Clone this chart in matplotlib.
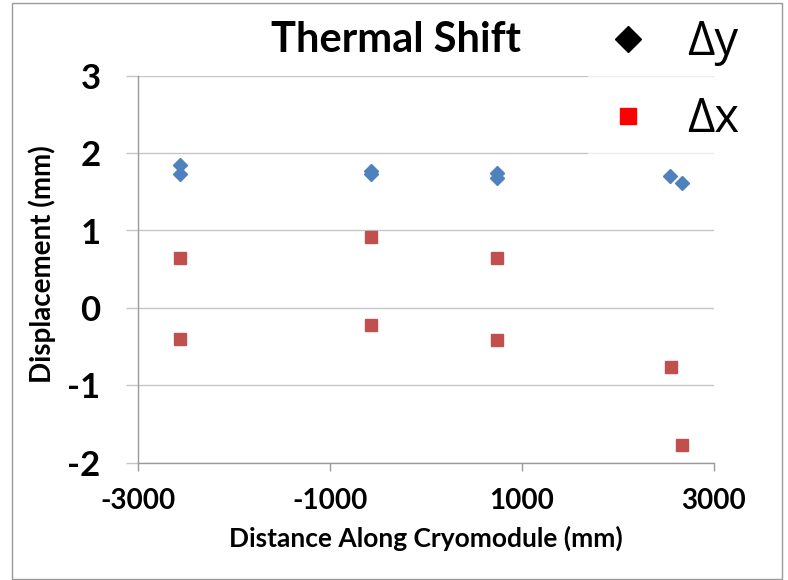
import matplotlib
matplotlib.use("Agg")
import matplotlib.pyplot as plt
from matplotlib.lines import Line2D
from matplotlib.patches import Rectangle

# positions along the cryomodule (mm)
pos_dy = [-2560, -2560, -573, -573, 740, 740, 2542, 2667]
dy = [1.84, 1.73, 1.77, 1.73, 1.74, 1.68, 1.70, 1.62]

pos_dx = [-2560, -2560, -573, -573, 740, 740, 2550, 2667]
dx = [0.64, -0.40, 0.91, -0.22, 0.65, -0.41, -0.77, -1.77]

x_ticks = [-3000, -1000, 1000, 3000]
y_ticks = [-2, -1, 0, 1, 2, 3]

BLUE = "#4F81BD"
RED = "#C0504D"
GRID = "#c6c6c6"
AXIS = "#9a9a9a"

plt.rcParams["font.family"] = ["Lato", "DejaVu Sans"]

W, H = 788, 580
fig = plt.figure(figsize=(W / 100, H / 100), dpi=100)
ax = fig.add_axes([138 / W, 1 - 462.7 / H, (714 - 138) / W, (462.7 - 75.7) / H])

ax.plot(pos_dy, dy, linestyle="none", marker="D", markersize=7.5,
        color=BLUE, markeredgecolor=BLUE, zorder=3)
ax.plot(pos_dx, dx, linestyle="none", marker="s", markersize=8.2,
        color=RED, markeredgecolor=RED, zorder=3)

ax.set_xlim(-3000, 3000)
ax.set_ylim(-2, 3)
ax.set_xticks(x_ticks)
ax.set_yticks(y_ticks)
ax.set_xticklabels([str(v) for v in x_ticks], fontsize=20, fontweight="bold")
ax.set_yticklabels([str(v) for v in y_ticks], fontsize=25, fontweight="bold")

ax.grid(axis="y", color=GRID, linewidth=1.0)
ax.set_axisbelow(True)
for side in ("top", "right"):
    ax.spines[side].set_visible(False)
for side in ("left", "bottom"):
    ax.spines[side].set_color(AXIS)
    ax.spines[side].set_linewidth(1.0)
ax.tick_params(axis="y", direction="out", length=9, width=1.0, color=GRID, pad=18)
ax.tick_params(axis="x", direction="out", length=6, width=1.0, color=AXIS, pad=12)

fig.text(396 / W, 1 - 40 / H, "Thermal Shift", fontsize=30, fontweight="bold",
         ha="center", va="center")
fig.text(426 / W, 1 - 538 / H, "Distance Along Cryomodule (mm)", fontsize=19,
         fontweight="bold", ha="center", va="center")
fig.text(42 / W, 1 - 264 / H, "Displacement (mm)", fontsize=20,
         fontweight="bold", ha="center", va="center", rotation=90)

handles = [
    Line2D([], [], linestyle="none", marker="D", markersize=13, color="black"),
    Line2D([], [], linestyle="none", marker="s", markersize=11, color="#FF0000"),
]
leg = ax.legend(handles, ["\u0394y", "\u0394x"], loc="upper left",
                bbox_to_anchor=(588 / W, 1 - 0 / H), bbox_transform=fig.transFigure,
                prop={"family": ["Open Sans", "DejaVu Sans"], "size": 34},
                frameon=True, facecolor="white", edgecolor="none", framealpha=0.7,
                borderpad=0.4, labelspacing=0.62, handlelength=0.9,
                handletextpad=0.8, borderaxespad=0)
leg.get_frame().set_boxstyle("square", pad=0)

# outer chart border
fig.patches.append(Rectangle((12 / W, 1 / H), (782 - 12) / W, (577 - 1) / H,
                             transform=fig.transFigure, fill=False,
                             edgecolor="#9a9a9a", linewidth=1.0))

fig.savefig("out.png", dpi=100)
